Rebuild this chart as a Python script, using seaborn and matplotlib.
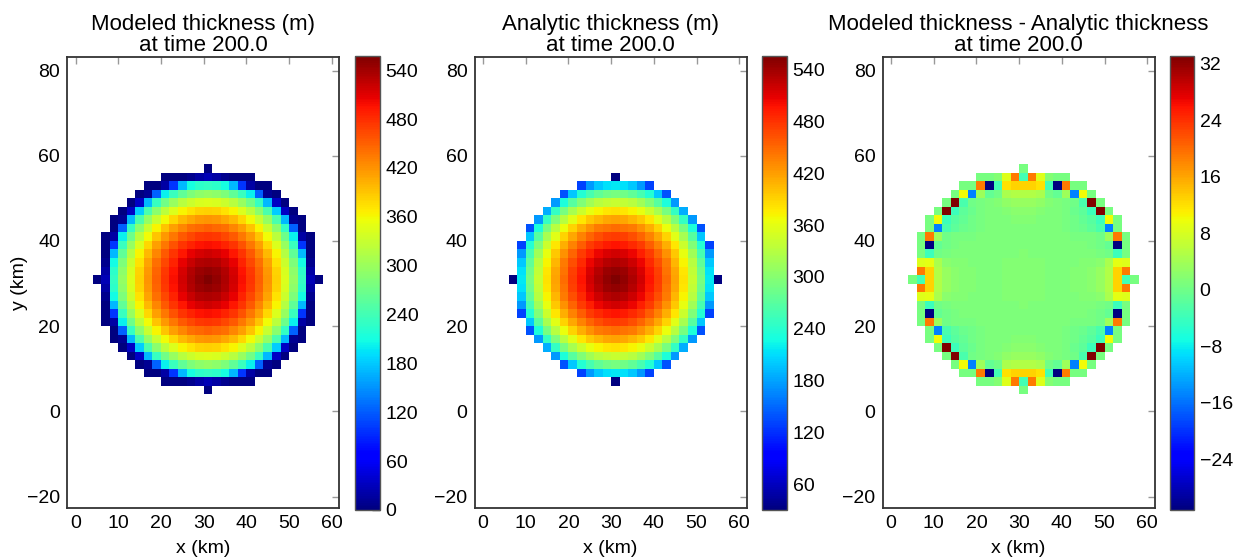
import numpy as np
import matplotlib
matplotlib.use("Agg")
import matplotlib.pyplot as plt
import seaborn as sns

sns.set_style("white")
plt.rcParams["font.family"] = ["Liberation Sans", "DejaVu Sans"]
plt.rcParams["text.color"] = "black"
plt.rcParams["axes.labelcolor"] = "black"

N = np.nan
time_label = "200.0"
titles = ["Modeled thickness (m)", "Analytic thickness (m)",
          "Modeled thickness - Analytic thickness"]

# cell centres (km) of the 2 km grid
x_km = [5, 7, 9, 11, 13, 15, 17, 19, 21, 23, 25, 27, 29, 31,
        33, 35, 37, 39, 41, 43, 45, 47, 49, 51, 53, 55, 57]
y_km = [57, 55, 53, 51, 49, 47, 45, 43, 41, 39, 37, 35, 33, 31,
        29, 27, 25, 23, 21, 19, 17, 15, 13, 11, 9, 7, 5]

# upper-left quadrant (rows: top -> centre row, cols: left -> centre col)
# analytic thickness (m), 0 = no ice
analytic_nw = [
    [0, 0, 0, 0, 0, 0, 0, 0, 0, 0, 0, 0, 0, 0],
    [0, 0, 0, 0, 0, 0, 0, 0, 0, 0, 0, 0, 0, 30],
    [0, 0, 0, 0, 0, 0, 0, 0, 0, 130, 175, 199, 212, 216],
    [0, 0, 0, 0, 0, 0, 0, 138, 199, 236, 260, 276, 286, 289],
    [0, 0, 0, 0, 0, 0, 175, 232, 270, 297, 317, 330, 338, 341],
    [0, 0, 0, 0, 0, 185, 247, 289, 320, 343, 361, 373, 380, 383],
    [0, 0, 0, 0, 175, 247, 295, 330, 358, 380, 397, 408, 415, 418],
    [0, 0, 0, 138, 232, 289, 330, 363, 390, 411, 427, 439, 445, 448],
    [0, 0, 0, 199, 270, 320, 358, 390, 415, 436, 452, 464, 472, 474],
    [0, 0, 130, 236, 297, 343, 380, 411, 436, 457, 474, 486, 494, 497],
    [0, 0, 175, 260, 317, 361, 397, 427, 452, 474, 492, 505, 514, 517],
    [0, 0, 199, 276, 330, 373, 408, 439, 464, 486, 505, 520, 530, 534],
    [0, 0, 212, 286, 338, 380, 415, 445, 472, 494, 514, 530, 542, 547],
    [0, 30, 216, 289, 341, 383, 418, 448, 474, 497, 517, 534, 547, 556],
]

# modeled - analytic (m), NaN = no modeled ice
diff_nw = [
    [N, N, N, N, N, N, N, N, N, N, N, N, N, 0.5],
    [N, N, N, N, N, N, N, N, 0.5, 0.5, 1.5, 8.5, 19, -3.5],
    [N, N, N, N, N, N, 0.5, 0.5, 19, -31.2, -3.5, 12, 13, 13],
    [N, N, N, N, N, 0.5, 10, -15, 3.5, -1, 0, 4.5, 5, 5],
    [N, N, N, N, 0.5, 33.1, -3, 0, 0.5, 1, 1.5, 2.5, 3, 3],
    [N, N, N, 0.5, 33.1, -4, -1.5, -0.5, 0.5, 1, 1, 1.5, 2, 2],
    [N, N, 0.5, 10, -4, -2, -1, 0, 0.5, 1, 1, 1, 1.5, 1.5],
    [N, N, 0.5, -15, -3, -1.5, -0.5, 0, 0.5, 1, 1, 1, 1, 1],
    [N, 0.5, 19, 3.5, 0, 0.5, 0.5, 0.5, 1, 1, 1, 1, 1, 1],
    [N, 0.5, -31.2, -1, 0, 0.5, 1, 1, 1, 1, 1, 1, 1, 1],
    [N, 0.5, -4, 0, 0.5, 1, 1, 1, 1, 1, 1, 1, 1, 1.5],
    [N, 8.5, 9, 4.5, 2, 1.5, 1.5, 1, 1, 1, 1, 1.5, 1.5, 1.5],
    [N, 19, 13, 5, 3, 2, 1.5, 1.5, 1, 1, 1, 1.5, 1.5, 1.5],
    [0.5, -3.5, 13, 5, 3, 2, 1.5, 1.5, 1, 1, 1, 1.5, 1.5, 1.5],
]

x_ticks = [0, 10, 20, 30, 40, 50, 60]
y_ticks = [-20, 0, 20, 40, 60, 80]
cbar_ticks = [
    [0, 60, 120, 180, 240, 300, 360, 420, 480, 540],
    [60, 120, 180, 240, 300, 360, 420, 480, 540],
    [-24, -16, -8, 0, 8, 16, 24, 32],
]


def unfold(q):
    q = np.asarray(q, dtype=float)
    top = np.hstack([q, q[:, -2::-1]])
    return np.vstack([top, top[-2::-1]])


analytic = unfold(analytic_nw)
diff = unfold(diff_nw)
modeled = analytic + diff

fields = [
    (modeled, np.isnan(diff), 0),
    (analytic, analytic <= 0, None),
    (diff, np.isnan(diff), None),
]

# km -> heatmap cell coordinates
dx = x_km[1] - x_km[0]
def to_u(km):
    return (km - x_km[0]) / dx + 0.5

def to_v(km):
    return (y_km[0] - km) / dx + 0.5


W, H = 1246, 560
fig = plt.figure(figsize=(W / 100, H / 100), dpi=100)

ax_lr = [(67, 339), (474.5, 746.5), (882.5, 1154.5)]
cb_lr = [(355, 380), (762, 787), (1170, 1194)]
ax_tb = (57, 508)
cb_tb = (56, 510)
fs = 14

for k, (data, mask, vmin) in enumerate(fields):
    l, r = ax_lr[k]
    ax = fig.add_axes([l / W, 1 - ax_tb[1] / H, (r - l) / W, (ax_tb[1] - ax_tb[0]) / H])
    cl, cr = cb_lr[k]
    cax = fig.add_axes([cl / W, 1 - cb_tb[1] / H, (cr - cl) / W, (cb_tb[1] - cb_tb[0]) / H])

    sns.heatmap(data, mask=mask, cmap="jet", vmin=vmin, ax=ax, cbar_ax=cax,
                xticklabels=False, yticklabels=False,
                cbar_kws={"ticks": cbar_ticks[k]})
    ax.set_aspect("auto")
    ax.set_xlim(to_u(-2), to_u(61.7))
    ax.set_ylim(to_v(-22.7), to_v(83.2))

    ax.set_xticks([to_u(t) for t in x_ticks])
    ax.set_xticklabels([str(t) for t in x_ticks])
    ax.set_yticks([to_v(t) for t in y_ticks])
    ax.set_yticklabels([str(t).replace("-", "\u2212") for t in y_ticks])
    ax.tick_params(direction="in", top=True, right=True, length=5, width=1,
                   color="#999999", labelcolor="black", labelsize=fs,
                   labelrotation=0, pad=5)
    for sp in ax.spines.values():
        sp.set_visible(True)
        sp.set_color("#333333")
        sp.set_linewidth(1.3)

    ax.set_xlabel("x (km)", fontsize=fs, labelpad=6)
    if k == 0:
        ax.set_ylabel("y (km)", fontsize=fs, labelpad=-1)
    ax.set_title(f"{titles[k]}\nat time {time_label}", fontsize=16, pad=4,
                 linespacing=1.0)

    cb = ax.collections[0].colorbar
    cb.outline.set_visible(True)
    cb.outline.set_edgecolor("#555555")
    cb.outline.set_linewidth(1)
    cb.ax.tick_params(direction="in", length=6, width=1, color="#333333",
                      labelcolor="black", labelsize=fs, pad=4)

fig.savefig("out.png", dpi=100, facecolor="white")
